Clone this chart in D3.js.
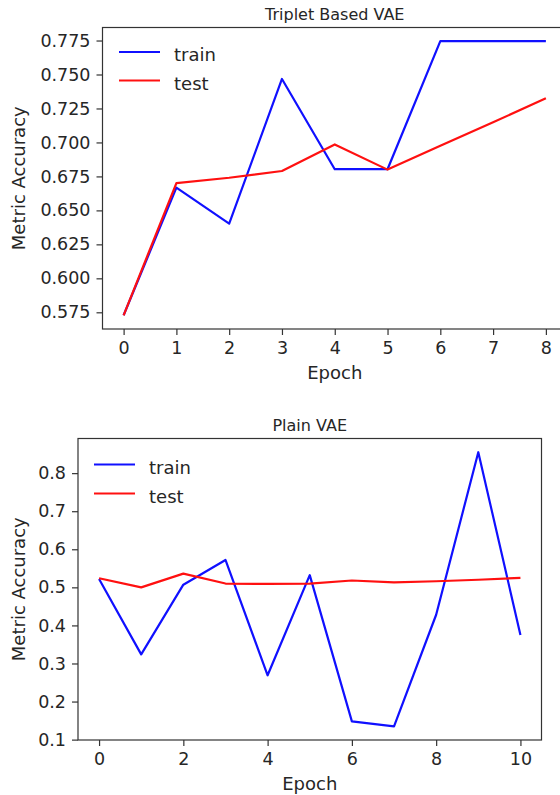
<!DOCTYPE html>
<html>
<head>
<meta charset="utf-8">
<script src="https://cdn.jsdelivr.net/npm/d3@7"></script>
<style>
  body { margin: 0; background: #fff; }
  text { font-family: "DejaVu Sans", sans-serif; fill: #262626; }
</style>
</head>
<body>
<svg id="drawing_region"></svg>
<script>
// Triplet Based VAE
const tripletEpochs = [0, 1, 2, 3, 4, 5, 6, 7, 8];
const tripletTrain = [0.5728, 0.6667, 0.6403, 0.7467, 0.6803, 0.6803, 0.7745, 0.7745, 0.7745];
const tripletTest = [0.5728, 0.6700, 0.6740, 0.6790, 0.6985, 0.6800, 0.6975, 0.7148, 0.7326];
const tripletYTicks = [0.575, 0.600, 0.625, 0.650, 0.675, 0.700, 0.725, 0.750, 0.775];
const tripletXTicks = [0, 1, 2, 3, 4, 5, 6, 7, 8];

// Plain VAE
const plainEpochs = [0, 1, 2, 3, 4, 5, 6, 7, 8, 9, 10];
const plainTrain = [0.522, 0.324, 0.507, 0.572, 0.269, 0.532, 0.148, 0.135, 0.428, 0.855, 0.375];
const plainTest = [0.524, 0.500, 0.536, 0.510, 0.509, 0.510, 0.518, 0.513, 0.516, 0.520, 0.525];
const plainYTicks = [0.1, 0.2, 0.3, 0.4, 0.5, 0.6, 0.7, 0.8];
const plainXTicks = [0, 2, 4, 6, 8, 10];

const seriesNames = ['train', 'test'];
const seriesColors = ['#1010ff', '#ff1010'];

const svg = d3.select('#drawing_region')
    .attr('width', 560)
    .attr('height', 795);

// matplotlib style 5% margins
function padded(ext) {
    const d = (ext[1] - ext[0]) * 0.05;
    return [ext[0] - d, ext[1] + d];
}

function drawPanel(cfg) {
    const xs = d3.scaleLinear().domain(padded(d3.extent(cfg.epochs))).range([cfg.left, cfg.right]);
    const ys = d3.scaleLinear().domain(padded(d3.extent(cfg.train.concat(cfg.test)))).range([cfg.bottom, cfg.top]);

    const g = svg.append('g');

    // Axes
    const xaxis = d3.axisBottom(xs).tickValues(cfg.xticks).tickSize(6).tickPadding(7).tickSizeOuter(0)
        .tickFormat(d3.format('d'));
    const yaxis = d3.axisLeft(ys).tickValues(cfg.yticks).tickSize(6).tickPadding(6).tickSizeOuter(0)
        .tickFormat(d3.format(cfg.yfmt));

    const xg = g.append('g').attr('transform', `translate(0, ${cfg.bottom})`).call(xaxis);
    const yg = g.append('g').attr('transform', `translate(${cfg.left}, 0)`).call(yaxis);
    [xg, yg].forEach(a => {
        a.select('.domain').remove();
        a.selectAll('line').attr('stroke', '#333').attr('stroke-width', 1.2);
        a.selectAll('text').attr('font-size', 17.5).attr('font-family', 'DejaVu Sans').attr('fill', '#262626');
    });

    // Lines
    const line = d3.line().x((d, i) => xs(cfg.epochs[i])).y(d => ys(d));
    [cfg.train, cfg.test].forEach((vals, k) => {
        g.append('path')
            .datum(vals)
            .attr('fill', 'none')
            .attr('stroke', seriesColors[k])
            .attr('stroke-width', 2.2)
            .attr('stroke-linejoin', 'round')
            .attr('d', line);
    });

    // Frame
    g.append('rect')
        .attr('x', cfg.left).attr('y', cfg.top)
        .attr('width', cfg.right - cfg.left).attr('height', cfg.bottom - cfg.top)
        .attr('fill', 'none').attr('stroke', '#333').attr('stroke-width', 1.2);

    // Legend
    seriesNames.forEach((name, k) => {
        const ly = cfg.legendY + k * cfg.legendGap;
        g.append('line')
            .attr('x1', cfg.legendX).attr('x2', cfg.legendX + 41)
            .attr('y1', ly).attr('y2', ly)
            .attr('stroke', seriesColors[k]).attr('stroke-width', 2.2);
        g.append('text')
            .attr('x', cfg.legendX + 55).attr('y', ly + 9)
            .attr('font-size', 18)
            .text(name);
    });

    // Title and labels
    g.append('text')
        .attr('x', (cfg.left + cfg.right) / 2).attr('y', cfg.top - 8)
        .attr('text-anchor', 'middle').attr('font-size', 16)
        .text(cfg.title);
    g.append('text')
        .attr('x', (cfg.left + cfg.right) / 2).attr('y', cfg.bottom + 50)
        .attr('text-anchor', 'middle').attr('font-size', 18)
        .text('Epoch');
    g.append('text')
        .attr('transform', `translate(25, ${(cfg.top + cfg.bottom) / 2}) rotate(-90)`)
        .attr('text-anchor', 'middle').attr('font-size', 18)
        .text('Metric Accuracy');
}

drawPanel({
    title: 'Triplet Based VAE',
    epochs: tripletEpochs, train: tripletTrain, test: tripletTest,
    xticks: tripletXTicks, yticks: tripletYTicks, yfmt: '.3f',
    left: 102.5, right: 567, top: 27.5, bottom: 329,
    legendX: 119, legendY: 52, legendGap: 28.5
});

drawPanel({
    title: 'Plain VAE',
    epochs: plainEpochs, train: plainTrain, test: plainTest,
    xticks: plainXTicks, yticks: plainYTicks, yfmt: '.1f',
    left: 78, right: 541.5, top: 438.5, bottom: 740,
    legendX: 94, legendY: 464.5, legendGap: 29
});
</script>
</body>
</html>
